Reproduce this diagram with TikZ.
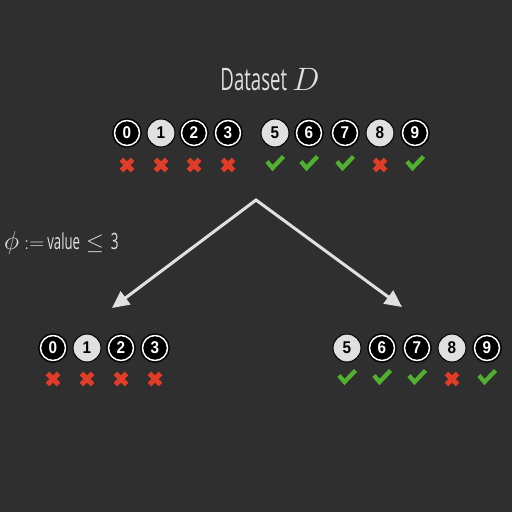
\documentclass[tikz,border=0pt]{standalone}
\usepackage{graphicx}
\usepackage{fontspec}
\setsansfont{Liberation Sans}
\newfontfamily\condfont[FakeStretch=0.6]{Open Sans}
\newfontfamily\digitfont[FakeStretch=0.9]{Liberation Sans}
\usetikzlibrary{arrows.meta}
\definecolor{bg}{HTML}{2F2F2F}
\definecolor{lite}{HTML}{E0E0E0}
\definecolor{xred}{HTML}{E03C28}
\definecolor{okgreen}{HTML}{52B030}
\tikzset{
  darkball/.style={circle, minimum size=25pt, inner sep=0pt, fill=black, draw=white, line width=1.5pt,
    preaction={draw=black, line width=4.6pt}, text=white, font=\digitfont\bfseries\fontsize{17}{17}\selectfont},
  liteball/.style={circle, minimum size=28pt, inner sep=0pt, fill=lite, draw=black, line width=1pt,
    text=black, font=\digitfont\bfseries\fontsize{17}{17}\selectfont},
  crossmark/.style={rectangle, minimum size=22pt, inner sep=0pt,
    path picture={\draw[xred, line width=5pt] ([shift={(-5.6pt,-5.6pt)}]path picture bounding box.center) -- ([shift={(5.6pt,5.6pt)}]path picture bounding box.center);
                  \draw[xred, line width=5pt] ([shift={(-5.6pt,5.6pt)}]path picture bounding box.center) -- ([shift={(5.6pt,-5.6pt)}]path picture bounding box.center);}},
  checkmark/.style={rectangle, minimum size=26pt, inner sep=0pt,
    path picture={\draw[okgreen, line width=4.3pt, line join=miter] ([shift={(-8pt,1.5pt)}]path picture bounding box.center) -- ([shift={(-2.5pt,-5pt)}]path picture bounding box.center) -- ([shift={(8.5pt,6.5pt)}]path picture bounding box.center);}},
  splitarrow/.style={draw=lite, line width=3pt, line join=miter, {Triangle[length=17pt,width=16pt]}-{Triangle[length=17pt,width=16pt]}},
}
\begin{document}
\begin{tikzpicture}[x=1pt,y=-1pt]
\useasboundingbox[fill=bg] (0,0) rectangle (512,512);
% title
\node[text=lite, anchor=base] (title) at (270,90) {\condfont\fontsize{31}{31}\selectfont Dataset\,\scalebox{1.3}{$D$}};
% top row
\node[darkball] (t0) at (127,133) {0};
\node[liteball] (t1) at (161,133) {1};
\node[darkball] (t2) at (194,133) {2};
\node[darkball] (t3) at (228,133) {3};
\node[liteball] (t5) at (275,133) {5};
\node[darkball] (t6) at (309,133) {6};
\node[darkball] (t7) at (345,133) {7};
\node[liteball] (t8) at (380,133) {8};
\node[darkball] (t9) at (415,133) {9};
\node[crossmark] (mt0) at (127,165) {};
\node[crossmark] (mt1) at (161,165) {};
\node[crossmark] (mt2) at (194,165) {};
\node[crossmark] (mt3) at (228,165) {};
\node[checkmark] (mt5) at (275,163) {};
\node[checkmark] (mt6) at (309,163) {};
\node[checkmark] (mt7) at (345,163) {};
\node[crossmark] (mt8) at (380,165) {};
\node[checkmark] (mt9) at (415,163) {};
% split
\coordinate (apex) at (256,200);
\coordinate (tipL) at (112,308);
\coordinate (tipR) at (402,307);
\draw[splitarrow] (tipL) -- (apex) -- (tipR);
\node[text=lite, anchor=base west, inner sep=0pt] (phi) at (4,249) {\fontsize{22}{22}\selectfont\scalebox{1.25}{$\phi$}\hspace{5pt}$:=$\hspace{3pt}\condfont value\hspace{6pt}\scalebox{1.1}{$\leq$}\hspace{7pt}\fontsize{22.5}{22}\selectfont 3};
% left group
\node[darkball] (l0) at (53,348) {0};
\node[liteball] (l1) at (87,348) {1};
\node[darkball] (l2) at (121,348) {2};
\node[darkball] (l3) at (155,348) {3};
\node[crossmark] (ml0) at (53,379) {};
\node[crossmark] (ml1) at (87,379) {};
\node[crossmark] (ml2) at (121,379) {};
\node[crossmark] (ml3) at (155,379) {};
% right group
\node[liteball] (r5) at (347,348) {5};
\node[darkball] (r6) at (382,348) {6};
\node[darkball] (r7) at (417,348) {7};
\node[liteball] (r8) at (452,348) {8};
\node[darkball] (r9) at (487,348) {9};
\node[checkmark] (mr5) at (347,377) {};
\node[checkmark] (mr6) at (382,377) {};
\node[checkmark] (mr7) at (417,377) {};
\node[crossmark] (mr8) at (452,379) {};
\node[checkmark] (mr9) at (487,377) {};
\end{tikzpicture}
\end{document}
